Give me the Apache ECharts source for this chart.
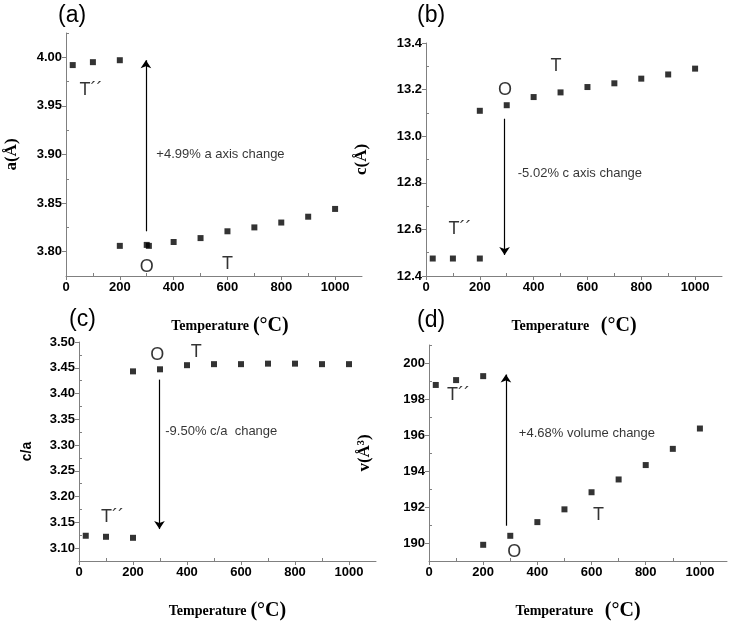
<!DOCTYPE html>
<html><head><meta charset="utf-8">
<script src="https://cdn.jsdelivr.net/npm/echarts@6/dist/echarts.min.js"></script>
<style>html,body{margin:0;padding:0;background:#fff}#c{width:734px;height:622px}</style>
</head><body><div id="c"></div>
<script>
// ---- data ----
const xTicks = [0, 200, 400, 600, 800, 1000];
const xMinor = [100, 300, 500, 700, 900];

const tempA = [25, 100, 200, 200, 300, 308, 400, 500, 600, 700, 800, 900, 1000];
const aVals = [3.992, 3.995, 3.997, 3.806, 3.807, 3.806, 3.810, 3.814, 3.821, 3.825, 3.830, 3.836, 3.844];
const aTicks = [3.80, 3.85, 3.90, 3.95, 4.00];
const aMinor = [3.775, 3.825, 3.875, 3.925, 3.975, 4.025];

const tempB = [25, 100, 200, 200, 300, 400, 500, 600, 700, 800, 900, 1000];
const cVals = [12.475, 12.475, 12.475, 13.109, 13.133, 13.168, 13.188, 13.211, 13.227, 13.247, 13.265, 13.29];
const cTicks = [12.4, 12.6, 12.8, 13.0, 13.2, 13.4];
const cMinor = [12.5, 12.7, 12.9, 13.1, 13.3];

const tempC = [25, 100, 200, 200, 300, 400, 500, 600, 700, 800, 900, 1000];
const caVals = [3.124, 3.122, 3.120, 3.443, 3.447, 3.455, 3.457, 3.457, 3.458, 3.458, 3.457, 3.457];
const caTicks = [3.10, 3.15, 3.20, 3.25, 3.30, 3.35, 3.40, 3.45, 3.50];
const caMinor = [3.075, 3.125, 3.175, 3.225, 3.275, 3.325, 3.375, 3.425, 3.475];

const tempD = [25, 100, 200, 200, 300, 400, 500, 600, 700, 800, 900, 1000];
const vVals = [198.78, 199.05, 199.27, 189.9, 190.4, 191.16, 191.87, 192.82, 193.53, 194.33, 195.23, 196.36];
const vTicks = [190, 192, 194, 196, 198, 200];
const vMinor = [189, 191, 193, 195, 197, 199, 201];

// arrows: [x, from, to]
const arrowA = [297, 3.821, 3.997];
const arrowB = [292, 13.075, 12.49];
const arrowC = [298, 3.427, 3.137];
const arrowD = [284, 190.96, 199.36];

// annotations: [x, y, text, fontSize]
const notesA = [[574, 3.90, '+4.99% a axis change', 13], [93, 3.966, 'T\u00b4\u00b4', 18], [300, 3.784, 'O', 18], [600, 3.787, 'T', 18]];
const notesB = [[572, 12.84, '-5.02% c axis change', 13], [126, 12.60, 'T\u00b4\u00b4', 18], [294, 13.20, 'O', 18], [483, 13.30, 'T', 18]];
const notesC = [[527, 3.327, '-9.50% c/a  change', 13], [124, 3.16, 'T\u00b4\u00b4', 18], [290, 3.475, 'O', 18], [434, 3.481, 'T', 18]];
const notesD = [[583, 196.09, '+4.68% volume change', 13], [109, 198.2, 'T\u00b4\u00b4', 18], [315, 189.5, 'O', 18], [626, 191.55, 'T', 18]];

const panelTags = ['(a)', '(b)', '(c)', '(d)'];

// ---- layout ----
const grids = [
  {left: 66, top: 33, width: 296, height: 243},
  {left: 426, top: 43, width: 296, height: 233},
  {left: 79, top: 342, width: 297, height: 220},
  {left: 429, top: 345, width: 298, height: 220}
];
const yCfg = [
  {min: 3.775, max: 4.025, ticks: aTicks, minor: aMinor, dec: 2, name: 'a(\u00c5)', serif: true, gap: 46},
  {min: 12.4, max: 13.4, ticks: cTicks, minor: cMinor, dec: 1, name: 'c(\u00c5)', serif: true, gap: 56},
  {min: 3.075, max: 3.50, ticks: caTicks, minor: caMinor, dec: 2, name: 'c/a', serif: false, gap: 45},
  {min: 189, max: 201, ticks: vTicks, minor: vMinor, dec: 0, name: 'v(\u00c5\u00b3)', serif: true, gap: 56}
];
const xNameSpace = [' ', '   ', ' ', '   '];
const xNamePad = [[0, 0, 0, 32], [0, 0, 0, 0], [0, 0, 0, 0], [0, 0, 0, 0]];
const series = [[tempA, aVals], [tempB, cVals], [tempC, caVals], [tempD, vVals]];
const arrows = [arrowA, arrowB, arrowC, arrowD];
const notes = [notesA, notesB, notesC, notesD];
const tagPos = [[68, 13], [427, 13], [79, 317], [427, 318]];

const axisColor = '#808080';
const labelFont = {color: '#000', fontFamily: 'Liberation Sans, Arial, sans-serif', fontSize: 13, fontWeight: 'bold'};

const xAxes = [], yAxes = [], ser = [], titles = [];
grids.forEach((g, i) => {
  const yc = yCfg[i];
  xAxes.push({
    gridIndex: i, type: 'value', min: 0, max: 1100, position: 'bottom',
    axisLine: {show: true, onZero: false, lineStyle: {color: axisColor, width: 1}},
    axisTick: {show: true, length: 4, customValues: xTicks, lineStyle: {color: axisColor}},
    axisLabel: Object.assign({customValues: xTicks, margin: 5, formatter: v => String(v)}, labelFont),
    splitLine: {show: false},
    name: '{t|Temperature}' + xNameSpace[i] + '{c|(\u00b0C)}', nameLocation: 'middle', nameGap: 40,
    nameTextStyle: {fontSize: 14, padding: xNamePad[i], rich: {
      t: {fontFamily: 'Liberation Serif, Times New Roman, serif', fontWeight: 'bold', fontSize: 14, color: '#000'},
      c: {fontFamily: 'Liberation Serif, Times New Roman, serif', fontWeight: 'bold', fontSize: 20, color: '#000'}
    }}
  });
  xAxes.push({
    gridIndex: i, type: 'value', min: 0, max: 1100, position: 'bottom',
    axisLine: {show: false, onZero: false},
    axisTick: {show: true, inside: true, length: 3, customValues: xMinor, lineStyle: {color: axisColor}},
    axisLabel: {show: false}, splitLine: {show: false}
  });
  yAxes.push({
    gridIndex: i, type: 'value', min: yc.min, max: yc.max, position: 'left',
    axisLine: {show: true, onZero: false, lineStyle: {color: axisColor, width: 1}},
    axisTick: {show: true, length: 4, customValues: yc.ticks, lineStyle: {color: axisColor}},
    axisLabel: Object.assign({customValues: yc.ticks, margin: 4,
      formatter: v => Number(v).toFixed(yc.dec)}, labelFont),
    splitLine: {show: false},
    name: yc.name, nameLocation: 'middle', nameGap: yc.gap, nameRotate: 90,
    nameTextStyle: yc.serif
      ? {fontFamily: 'Liberation Serif, Times New Roman, serif', fontWeight: 'bold', fontSize: 17, color: '#000'}
      : {fontFamily: 'Liberation Sans, Arial, sans-serif', fontWeight: 'bold', fontSize: 14, color: '#000'}
  });
  yAxes.push({
    gridIndex: i, type: 'value', min: yc.min, max: yc.max, position: 'left',
    axisLine: {show: false, onZero: false},
    axisTick: {show: true, inside: true, length: 3, customValues: yc.minor, lineStyle: {color: axisColor}},
    axisLabel: {show: false}, splitLine: {show: false}
  });
  const [xs, ys] = series[i];
  const ar = arrows[i];
  ser.push({
    type: 'scatter', xAxisIndex: 2 * i, yAxisIndex: 2 * i,
    symbol: 'rect', symbolSize: 6, itemStyle: {color: '#000'},
    data: xs.map((x, k) => [x, ys[k]]),
    markLine: {
      silent: true, symbol: ['none', 'arrow'], symbolSize: 8, animation: false,
      lineStyle: {color: '#000', width: 1.2, type: 'solid'}, label: {show: false},
      data: [[{coord: [ar[0], ar[1]]}, {coord: [ar[0], ar[2]]}]]
    }
  });
  ser.push({
    type: 'scatter', xAxisIndex: 2 * i, yAxisIndex: 2 * i, symbolSize: 0, silent: true,
    data: notes[i].map(n => ({value: [n[0], n[1]], name: n[2], label: {fontSize: n[3]}})),
    label: {show: true, position: 'inside', color: '#000',
      fontFamily: 'Liberation Sans, Arial, sans-serif',
      formatter: p => p.name}
  });
  titles.push({
    text: panelTags[i], left: tagPos[i][0] - 15, top: tagPos[i][1] - 14,
    textStyle: {fontFamily: 'Liberation Sans, Arial, sans-serif', fontWeight: 'normal', fontSize: 23, color: '#000'}
  });
});

const chart = echarts.init(document.getElementById('c'), null, {renderer: 'canvas'});
chart.setOption({
  animation: false,
  backgroundColor: '#fff',
  title: titles,
  grid: grids,
  xAxis: xAxes,
  yAxis: yAxes,
  series: ser
});
</script>
</body></html>
